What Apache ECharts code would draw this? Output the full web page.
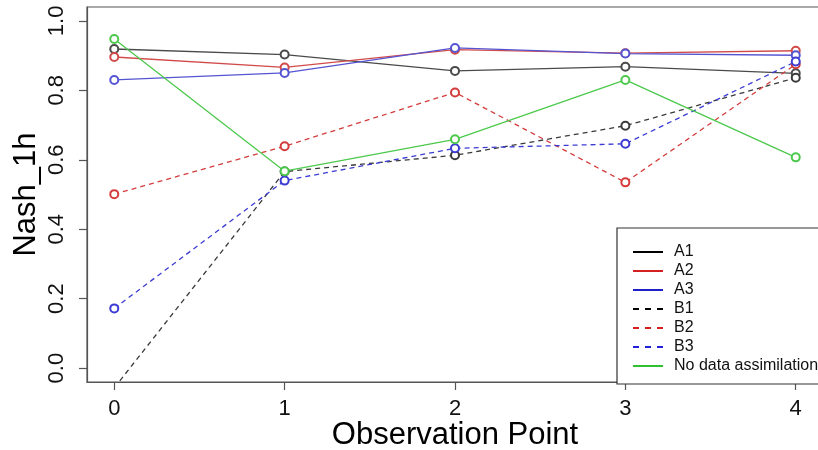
<!DOCTYPE html>
<html>
<head>
<meta charset="utf-8">
<script src="https://cdn.jsdelivr.net/npm/echarts@6/dist/echarts.min.js"></script>
<style>
html,body{margin:0;padding:0;background:#fff;}
#chart{width:818px;height:450px;}
</style>
</head>
<body>
<div id="chart"></div>
<script>
// Data
var points = [0, 1, 2, 3, 4];
var xTicks = [0, 1, 2, 3, 4];
var yTicks = [0, 0.2, 0.4, 0.6, 0.8, 1.0];
var seriesNames = ['A1', 'A2', 'A3', 'B1', 'B2', 'B3', 'No data assimilation'];
var A1 = [0.919, 0.903, 0.856, 0.868, 0.849];
var A2 = [0.896, 0.866, 0.917, 0.907, 0.914];
var A3 = [0.830, 0.850, 0.922, 0.906, 0.901];
var B1 = [-0.057, 0.566, 0.613, 0.698, 0.836];
var B2 = [0.501, 0.639, 0.794, 0.535, 0.875];
var B3 = [0.172, 0.540, 0.633, 0.646, 0.883];
var NoDA = [0.948, 0.567, 0.659, 0.830, 0.607];

var values = [A1, A2, A3, B1, B2, B3, NoDA];
var colors = ['#4a4a4a', '#d24b4b', '#5454d2', '#3a3a3a', '#d43c3c', '#3c3cd4', '#4cc94c'];
var legendColors = ['#000000', '#d42020', '#2020c8', '#000000', '#d42020', '#2020d8', '#30c030'];
var dashed = [false, false, false, true, true, true, false];

var font = '"Liberation Sans", Arial, sans-serif';

var series = values.map(function (v, i) {
  return {
    name: seriesNames[i],
    type: 'line',
    data: points.map(function (p, j) { return [p, v[j]]; }),
    symbol: 'emptyCircle',
    symbolSize: 8,
    color: colors[i],
    lineStyle: { width: 1.3, color: colors[i], type: dashed[i] ? [5, 4] : 'solid' },
    itemStyle: { color: colors[i], borderWidth: 1 },
    animation: false,
    clip: true
  };
});

var chart = echarts.init(document.getElementById('chart'), null, { renderer: 'canvas' });
chart.setOption({
  backgroundColor: '#ffffff',
  animation: false,
  grid: {
    left: 87, top: 7, width: 736, height: 375,
    outerBoundsMode: 'none', containLabel: false,
    show: true, borderColor: '#555', borderWidth: 1.2, backgroundColor: 'transparent'
  },
  xAxis: {
    type: 'value', min: -0.16, max: 4.16,
    name: 'Observation Point', nameLocation: 'middle', nameGap: 38, nameMoveOverlap: false,
    nameTextStyle: { fontFamily: font, fontSize: 31, color: '#000' },
    axisLine: { show: true, onZero: false, lineStyle: { color: '#555', width: 1.2 } },
    axisTick: { show: true, customValues: xTicks, length: 8, inside: false, lineStyle: { color: '#555', width: 1.2 } },
    axisLabel: { customValues: xTicks, fontFamily: font, fontSize: 22, color: '#111', margin: 16 },
    splitLine: { show: false }
  },
  yAxis: {
    type: 'value', min: -0.04, max: 1.04,
    name: 'Nash_1h', nameLocation: 'middle', nameGap: 45, nameRotate: 90, nameMoveOverlap: false,
    nameTextStyle: { fontFamily: font, fontSize: 31, color: '#000' },
    axisLine: { show: true, onZero: false, lineStyle: { color: '#555', width: 1.2 } },
    axisTick: { show: true, customValues: yTicks, length: 8, lineStyle: { color: '#555', width: 1.2 } },
    axisLabel: {
      customValues: yTicks, rotate: 90, fontFamily: font, fontSize: 22, color: '#111', margin: 19,
      formatter: function (v) { return v.toFixed(1); }
    },
    splitLine: { show: false }
  },
  legend: {
    show: true,
    orient: 'vertical',
    left: 617, top: 228,
    padding: [16, 20, 10, 15],
    itemWidth: 30, itemHeight: 14, itemGap: 3,
    backgroundColor: '#fff',
    borderColor: '#333', borderWidth: 1.2, borderRadius: 0,
    itemStyle: { opacity: 0 },
    textStyle: { fontFamily: font, fontSize: 16, lineHeight: 16, color: '#111', padding: [0, 0, 0, 6] },
    data: seriesNames.map(function (n, i) {
      return {
        name: n,
        lineStyle: { color: legendColors[i], width: 2, type: dashed[i] ? [6, 6] : 'solid' }
      };
    })
  },
  series: series
});
</script>
</body>
</html>
